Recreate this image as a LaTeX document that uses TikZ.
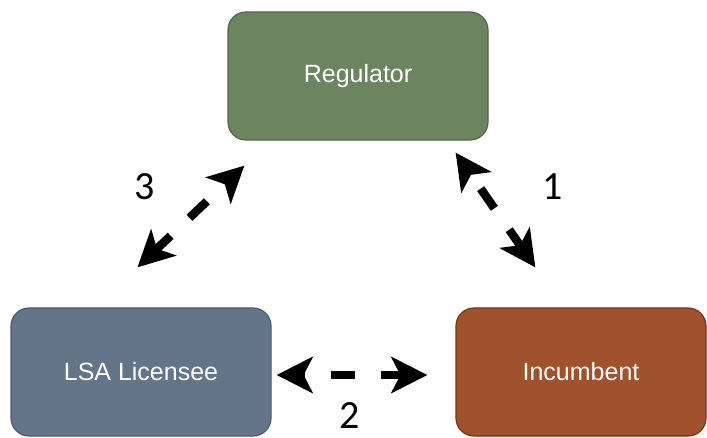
\documentclass[tikz,border=0pt]{standalone}
\usepackage{fontspec}
\setmainfont{Liberation Sans}
\newfontfamily\numfont{Carlito}
\usetikzlibrary{arrows.meta}
\definecolor{regulatorgreen}{RGB}{108,133,96}
\definecolor{regulatoredge}{RGB}{78,104,68}
\definecolor{licenseeblue}{RGB}{100,117,137}
\definecolor{licenseeedge}{RGB}{76,92,112}
\definecolor{incumbentbrown}{RGB}{160,82,45}
\definecolor{incumbentedge}{RGB}{122,52,22}
\begin{document}
\begin{tikzpicture}[x=1pt, y=-1pt,
    every node/.style={rectangle, draw, line width=1.2pt, rounded corners=18pt, minimum width=260pt, minimum height=128pt, text=white, font=\fontsize{25}{29}\selectfont},
    num/.style={draw=none, minimum width=0pt, minimum height=0pt, text=black, font=\numfont\fontsize{40}{44}\selectfont},
    linkarrow/.style={line width=8.5pt, {Stealth[length=36pt,width=36pt,inset=9pt]}-{Stealth[length=36pt,width=36pt,inset=9pt]}, dash pattern=on 24pt off 26pt, dash phase=3pt}
]
\useasboundingbox (0,0) rectangle (707,438);
\node[fill=regulatorgreen, draw=regulatoredge] (reg) at (358,76) {Regulator};
\node[fill=licenseeblue, draw=licenseeedge] (lsa) at (141,372) {LSA Licensee};
\node[fill=incumbentbrown, draw=incumbentedge, minimum width=250pt] (inc) at (581,372) {Incumbent};

\coordinate (r3) at ([xshift=17pt,yshift=-25pt]reg.south west);
\coordinate (l3) at ([xshift=127pt,yshift=40pt]lsa.north west);
\coordinate (r1) at ([xshift=-33pt,yshift=-12pt]reg.south east);
\coordinate (i1) at ([xshift=80pt,yshift=40pt]inc.north west);
\coordinate (l2) at ([xshift=5pt,yshift=-3pt]lsa.east);
\coordinate (i2) at ([xshift=-28pt,yshift=-3pt]inc.west);

\draw[linkarrow] (l3) -- (r3);
\draw[linkarrow] (i1) -- (r1);
\draw[linkarrow] (i2) -- (l2);

\node[num] (n3) at (145,187) {3};
\node[num] (n1) at (553,187) {1};
\node[num] (n2) at (350,416) {2};
\end{tikzpicture}
\end{document}
